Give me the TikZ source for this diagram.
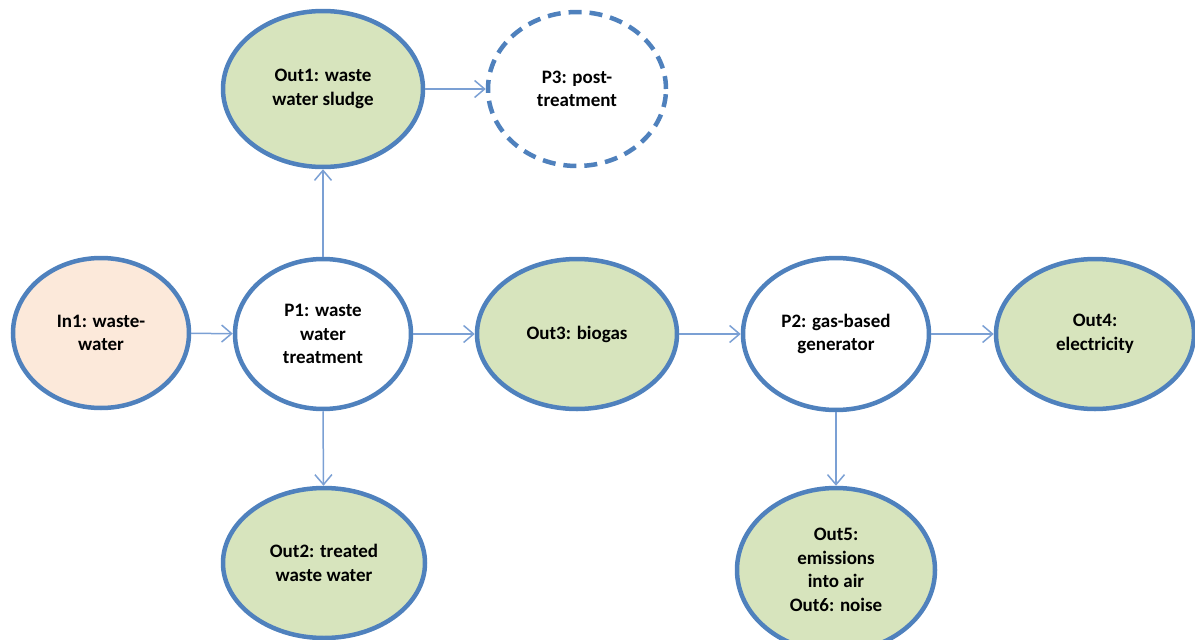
\documentclass[tikz,border=0pt]{standalone}
\usepackage{fontspec}
\setmainfont{Carlito}
\usetikzlibrary{shapes.geometric,arrows.meta}
\definecolor{rim}{HTML}{4F81BD}
\definecolor{flow}{HTML}{7BA0D4}
\definecolor{outfill}{HTML}{D7E4BD}
\definecolor{infill}{HTML}{FCE9DA}
\tikzset{
  blob/.style={ellipse, draw=rim, line width=4.5pt, inner sep=0pt,
    align=center, font=\fontsize{19}{23.5}\selectfont\bfseries},
  outblob/.style={blob, fill=outfill},
  inblob/.style={blob, fill=infill},
  procblob/.style={blob, fill=white},
  optblob/.style={procblob, dash pattern=on 13pt off 8pt},
  flowarrow/.style={draw=flow, line width=1.5pt,
    -{Straight Barb[length=10pt,width=17pt,line width=1.5pt]}}
}
\begin{document}
\begin{tikzpicture}[x=1pt,y=-1pt]
\useasboundingbox (0,0) rectangle (1195,640);
\node[inblob, minimum width=176pt, minimum height=150pt] (in1) at (101,333) {In1: waste-\\water};
\node[procblob, minimum width=176pt, minimum height=150pt] (p1) at (323,334) {P1: waste\\water\\treatment};
\node[outblob, minimum width=200pt, minimum height=156pt] (out1) at (323,89) {Out1: waste\\water sludge};
\node[optblob, minimum width=178pt, minimum height=154pt] (p3) at (577,89) {P3: post-\\treatment};
\node[outblob, minimum width=200pt, minimum height=150pt] (out3) at (577,334) {Out3: biogas};
\node[procblob, minimum width=186pt, minimum height=152pt] (p2) at (836,334) {P2: gas-based\\generator};
\node[outblob, minimum width=198pt, minimum height=150pt] (out4) at (1095,334) {Out4:\\electricity};
\node[outblob, minimum width=202pt, minimum height=150pt] (out2) at (324,563) {Out2: treated\\waste water};
\node[outblob, minimum width=198pt, minimum height=164pt] (out5) at (836,570) {Out5:\\emissions\\into air\\Out6: noise};

\draw[flowarrow] (in1) -- (p1);
\draw[flowarrow] (p1) -- (out3);
\draw[flowarrow] (out3) -- (p2);
\draw[flowarrow] (p2) -- (out4);
\draw[flowarrow] (p1) -- (out1);
\draw[flowarrow] (p1.south) -- (out2);
\draw[flowarrow] (out1) -- (p3);
\draw[flowarrow] (p2) -- (out5);
\end{tikzpicture}
\end{document}
